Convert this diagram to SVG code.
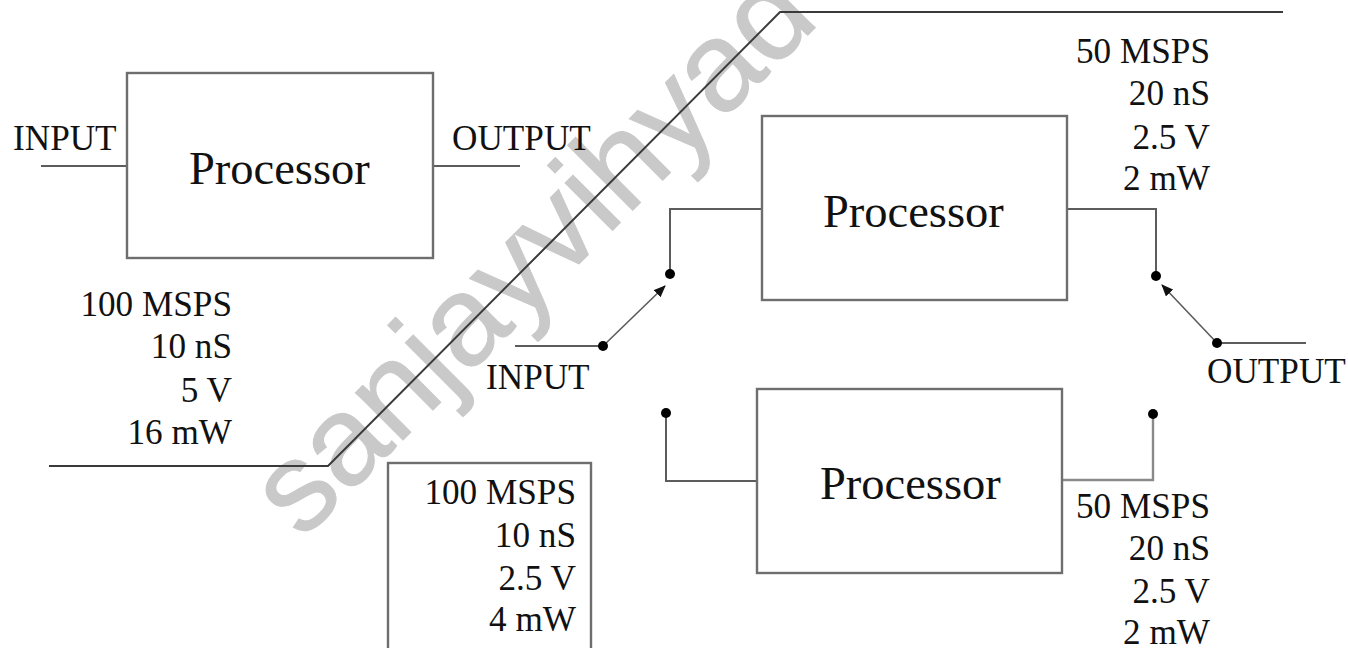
<svg xmlns="http://www.w3.org/2000/svg" width="1348" height="648" viewBox="0 0 1348 648">
<style>
text{font-family:"Liberation Serif","Times New Roman",serif;fill:#111}
.l{font-size:35.2px}
.r{font-size:35.2px;text-anchor:end}
.p{font-size:46.5px}
.b{fill:none;stroke:#6e6e6e;stroke-width:2.4}
.c{fill:none;stroke:#5c5c5c;stroke-width:2}
.t{fill:#000}
.wm{font-family:"Liberation Sans",Arial,sans-serif;font-size:127px;fill:#c9c9c9;stroke:#c9c9c9;stroke-width:1}
</style>
<defs><marker id="ah" markerWidth="12" markerHeight="10" refX="11" refY="5" orient="auto" markerUnits="userSpaceOnUse"><path d="M0 0L12 5L0 10Z" fill="#111"/></marker></defs>
<rect width="1348" height="648" fill="#fff"/>
<text class="wm" transform="translate(302 541) rotate(-45)">sanjayvihyad</text>
<g id="connectors">
<path class="c" d="M41 166H127M433 166H520"/>
<path d="M49 466H328L780 12H1283" fill="none" stroke="#3a3a3a" stroke-width="2"/>
<path class="c" d="M762 209H670V274"/>
<path class="c" d="M1067 209H1156V276"/>
<path class="c" d="M757 481H666V414"/>
<path class="c" d="M1062 480H1153V414" style="stroke:#8a8a8a;stroke-width:2.4"/>
<path class="c" d="M515 346H603"/>
<path class="c" d="M1217 343H1306"/>
<path class="c" d="M603 346L665 286" marker-end="url(#ah)" style="stroke-width:1.6"/>
<path class="c" d="M1217 343L1162 285" marker-end="url(#ah)" style="stroke-width:1.6"/>
<g class="t"><circle cx="670" cy="274" r="5"/><circle cx="1156" cy="276" r="5"/><circle cx="603" cy="346" r="5"/><circle cx="1217" cy="343" r="5"/><circle cx="666" cy="413" r="5"/><circle cx="1153" cy="414" r="5"/></g>
</g>
<g id="proc1"><rect class="b" x="127" y="73" width="306" height="185"/><text class="p" x="189" y="184">Processor</text></g>
<g id="proc2"><rect class="b" x="762" y="116" width="305" height="184"/><text class="p" x="823" y="227">Processor</text></g>
<g id="proc3"><rect class="b" x="757" y="389" width="305" height="184"/><text class="p" x="820" y="499">Processor</text></g>
<g id="spec-box"><rect class="b" x="388" y="463" width="203" height="200"/>
<text class="r" x="576" y="504">100 MSPS</text><text class="r" x="576" y="547">10 nS</text><text class="r" x="576" y="590">2.5 V</text><text class="r" x="576" y="631">4 mW</text></g>
<g id="labels">
<text class="l" x="13" y="150">INPUT</text>
<text class="l" x="452" y="150">OUTPUT</text>
<text class="l" x="486" y="389">INPUT</text>
<text class="l" x="1207" y="383">OUTPUT</text>
<text class="r" x="232" y="316">100 MSPS</text><text class="r" x="232" y="358">10 nS</text><text class="r" x="232" y="402">5 V</text><text class="r" x="232" y="444">16 mW</text>
<text class="r" x="1210" y="63">50 MSPS</text><text class="r" x="1210" y="105">20 nS</text><text class="r" x="1210" y="149">2.5 V</text><text class="r" x="1210" y="190">2 mW</text>
<text class="r" x="1210" y="518">50 MSPS</text><text class="r" x="1210" y="560">20 nS</text><text class="r" x="1210" y="603">2.5 V</text><text class="r" x="1210" y="644">2 mW</text>
</g>
</svg>
